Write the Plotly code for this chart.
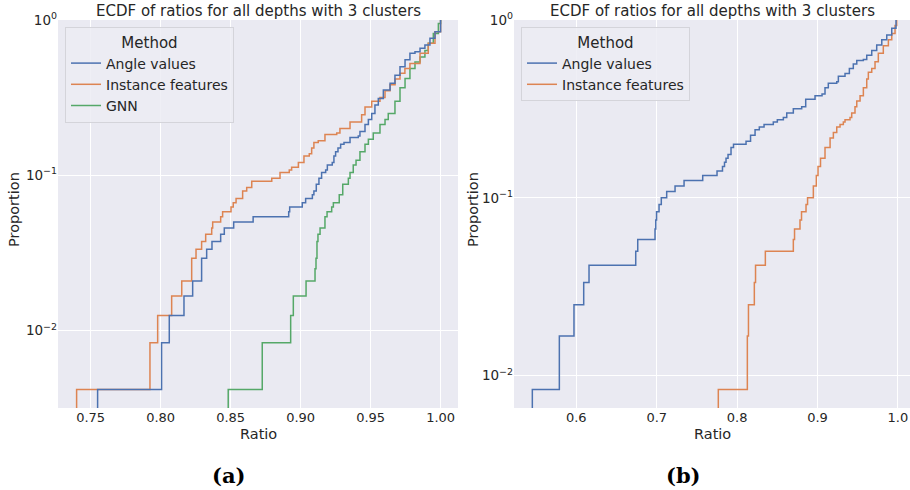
import plotly.graph_objects as go

# ---------------- data ----------------
# Panel (a): ECDF step positions (ratio) and cumulative counts, N = 240 per method
N_A = 240
a_angle_x = [0.7550, 0.8007, 0.8062, 0.8167, 0.8229, 0.8293, 0.8329, 0.8367, 0.8429, 0.8455,
             0.8522, 0.8661, 0.8915, 0.8922, 0.9012, 0.9036, 0.9084, 0.9095, 0.9112, 0.9131,
             0.9150, 0.9179, 0.9191, 0.9226, 0.9238, 0.9250, 0.9267, 0.9286, 0.9310, 0.9353,
             0.9412, 0.9424, 0.9460, 0.9484, 0.9508, 0.9531, 0.9555, 0.9591, 0.9639, 0.9674,
             0.9710, 0.9746, 0.9781, 0.9817, 0.9853, 0.9888, 0.9924, 0.9960, 1.0000]
a_angle_k = [1, 2, 3, 4, 5, 7, 8, 9, 10, 11,
             12, 13, 14, 15, 16, 17, 18, 19, 21, 23,
             25, 26, 28, 29, 32, 34, 36, 38, 39, 42,
             43, 46, 51, 55, 60, 68, 75, 85, 94, 106,
             120, 133, 147, 150, 158, 166, 183, 202, 240]

a_inst_x = [0.7400, 0.7924, 0.7979, 0.8079, 0.8151, 0.8222, 0.8253, 0.8293, 0.8322, 0.8365,
            0.8372, 0.8429, 0.8443, 0.8503, 0.8519, 0.8539, 0.8586, 0.8615, 0.8651, 0.8794,
            0.8853, 0.8919, 0.8936, 0.8984, 0.9024, 0.9062, 0.9079, 0.9095, 0.9126, 0.9174,
            0.9258, 0.9281, 0.9353, 0.9436, 0.9460, 0.9508, 0.9567, 0.9603, 0.9639, 0.9675,
            0.9710, 0.9745, 0.9781, 0.9853, 0.9912, 0.9960, 1.0000]
a_inst_k = [1, 2, 3, 4, 5, 7, 8, 9, 10, 11,
            12, 13, 14, 15, 16, 17, 19, 20, 22, 23,
            25, 26, 27, 29, 32, 33, 36, 39, 40, 44,
            45, 48, 53, 59, 66, 72, 76, 84, 92, 100,
            109, 117, 126, 147, 170, 202, 240]

a_gnn_x = [0.8483, 0.8726, 0.8929, 0.8948, 0.9039, 0.9103, 0.9110, 0.9117, 0.9124, 0.9139,
           0.9174, 0.9189, 0.9222, 0.9234, 0.9276, 0.9301, 0.9341, 0.9353, 0.9376, 0.9396,
           0.9424, 0.9460, 0.9484, 0.9519, 0.9567, 0.9603, 0.9626, 0.9674, 0.9710, 0.9746,
           0.9781, 0.9817, 0.9853, 0.9888, 0.9912, 0.9948, 0.9984, 1.0000]
a_gnn_k = [1, 2, 3, 4, 5, 6, 7, 9, 10, 11,
           13, 14, 15, 16, 18, 21, 23, 25, 28, 30,
           34, 38, 41, 45, 51, 55, 60, 72, 88, 101,
           117, 129, 139, 153, 170, 197, 228, 240]

# Panel (b): N = 120 per method
N_B = 120
b_angle_x = [0.5453, 0.5789, 0.5971, 0.6092, 0.6158, 0.6739, 0.6764, 0.6979, 0.6988, 0.6998,
             0.7029, 0.7057, 0.7124, 0.7228, 0.7340, 0.7572, 0.7750, 0.7818, 0.7843, 0.7862,
             0.7887, 0.7924, 0.7955, 0.8111, 0.8167, 0.8223, 0.8276, 0.8335, 0.8450, 0.8500,
             0.8575, 0.8617, 0.8699, 0.8803, 0.8853, 0.8969, 0.9056, 0.9093, 0.9134, 0.9239,
             0.9259, 0.9342, 0.9396, 0.9445, 0.9488, 0.9570, 0.9612, 0.9674, 0.9736, 0.9799,
             0.9861, 0.9923, 0.9976]
b_angle_k = [1, 2, 3, 4, 5, 6, 7, 8, 9, 10,
             11, 12, 13, 14, 15, 16, 17, 18, 19, 20,
             21, 23, 24, 25, 27, 29, 30, 31, 32, 33,
             34, 36, 38, 39, 43, 45, 46, 50, 53, 54,
             58, 60, 64, 68, 71, 72, 76, 81, 87, 93,
             99, 108, 120]

b_inst_x = [0.7766, 0.8127, 0.8141, 0.8214, 0.8229, 0.8351, 0.8699, 0.8714, 0.8782, 0.8801,
            0.8857, 0.8876, 0.8948, 0.8985, 0.9006, 0.9037, 0.9093, 0.9156, 0.9197, 0.9239,
            0.9280, 0.9321, 0.9342, 0.9404, 0.9425, 0.9466, 0.9488, 0.9529, 0.9570, 0.9612,
            0.9632, 0.9674, 0.9715, 0.9756, 0.9818, 0.9881, 0.9923, 0.9964, 0.9985]
b_inst_k = [1, 2, 3, 4, 5, 6, 7, 8, 9, 10,
            11, 12, 14, 16, 18, 20, 23, 26, 28, 30,
            31, 32, 33, 34, 36, 39, 42, 45, 50, 56,
            61, 64, 70, 78, 86, 93, 101, 112, 120]

METHODS = ["Angle values", "Instance features", "GNN"]
TITLE = "ECDF of ratios for all depths with 3 clusters"
A_XTICKS = [0.75, 0.80, 0.85, 0.90, 0.95, 1.00]
B_XTICKS = [0.6, 0.7, 0.8, 0.9, 1.0]
Y_TICKS = [0.01, 0.1, 1]
Y_TICKTEXT = ["10<sup>\u22122</sup>", "10<sup>\u22121</sup>", "10<sup>0</sup>"]

# ---------------- styling ----------------
COLORS = {"Angle values": "#4C72B0", "Instance features": "#DD8452", "GNN": "#55A868"}
TXT = "#262626"
BG = "#EAEAF2"
W, H = 910, 490


def ecdf_xy(xs, ks, n):
    # start the first vertical segment below the visible range (ECDF begins at 0)
    return [xs[0]] + list(xs), [1e-5] + [k / n for k in ks]


fig = go.Figure()

panel_a = {"Angle values": (a_angle_x, a_angle_k), "Instance features": (a_inst_x, a_inst_k),
           "GNN": (a_gnn_x, a_gnn_k)}
panel_b = {"Angle values": (b_angle_x, b_angle_k), "Instance features": (b_inst_x, b_inst_k)}

# draw in reverse hue order (seaborn layering: first method on top)
for name in reversed(METHODS):
    xs, ks = panel_a[name]
    x, y = ecdf_xy(xs, ks, N_A)
    fig.add_trace(go.Scatter(x=x, y=y, mode="lines", line=dict(color=COLORS[name], width=1.5, shape="hv"),
                             name=name, xaxis="x", yaxis="y", legend="legend", hoverinfo="skip"))
for name in reversed(METHODS[:2]):
    xs, ks = panel_b[name]
    x, y = ecdf_xy(xs, ks, N_B)
    fig.add_trace(go.Scatter(x=x, y=y, mode="lines", line=dict(color=COLORS[name], width=1.5, shape="hv"),
                             name=name, xaxis="x2", yaxis="y2", legend="legend2", hoverinfo="skip"))

common_x = dict(showgrid=True, gridcolor="white", gridwidth=1, zeroline=False, showline=False,
                ticks="", tickfont=dict(family="DejaVu Sans", size=13, color=TXT), automargin=False)
common_y = dict(type="log", showgrid=True, gridcolor="white", gridwidth=1, zeroline=False, showline=False,
                ticks="", tickvals=Y_TICKS, ticktext=Y_TICKTEXT,
                tickfont=dict(family="DejaVu Sans", size=13.5, color=TXT), automargin=False,
                minor=dict(showgrid=False))

legend_common = dict(y=1 - 27 / H, xanchor="left", yanchor="top",
                     bgcolor="rgba(236,236,243,0.85)", bordercolor="#D4D4DA", borderwidth=1,
                     title=dict(text="Method", side="top center", font=dict(size=15, color=TXT)),
                     font=dict(size=14, color=TXT), traceorder="reversed", tracegroupgap=0, itemwidth=30)

ydom = [1 - 408 / H, 1 - 20 / H]
fig.update_layout(
    width=W, height=H,
    margin=dict(l=0, r=0, t=0, b=0),
    paper_bgcolor="white", plot_bgcolor=BG,
    font=dict(family="DejaVu Sans", color=TXT),
    xaxis=dict(domain=[58 / W, 458 / W], anchor="y", range=[0.72671, 1.01243],
               tickvals=A_XTICKS, ticktext=[f"{v:.2f}" for v in A_XTICKS], **common_x),
    yaxis=dict(domain=ydom, anchor="x", range=[-2.499, 0.0005], **common_y),
    xaxis2=dict(domain=[514 / W, 1.0], anchor="y2", range=[0.5225, 1.0150],
                tickvals=B_XTICKS, ticktext=[f"{v:.1f}" for v in B_XTICKS], **common_x),
    yaxis2=dict(domain=ydom, anchor="x2", range=[-2.183, 0.0005], **common_y),
    legend=dict(x=65 / W, **legend_common),
    legend2=dict(x=521 / W, **legend_common),
    showlegend=True,
)

ann = []
for cx in (258, 712):
    ann.append(dict(text=TITLE, x=cx / W, y=1 - 11 / H, xref="paper", yref="paper",
                    showarrow=False, font=dict(size=15, color=TXT), xanchor="center", yanchor="middle"))
    ann.append(dict(text="Ratio", x=cx / W, y=1 - 434 / H, xref="paper", yref="paper",
                    showarrow=False, font=dict(size=14.5, color=TXT), xanchor="center", yanchor="middle"))
for lx in (14, 473):
    ann.append(dict(text="Proportion", x=lx / W, y=1 - 210 / H, xref="paper", yref="paper", textangle=-90,
                    showarrow=False, font=dict(size=14.5, color=TXT), xanchor="center", yanchor="middle"))
for cx, lab in ((228, "(a)"), (683, "(b)")):
    ann.append(dict(text=f"<b>{lab}</b>", x=cx / W, y=1 - 475 / H, xref="paper", yref="paper",
                    showarrow=False, font=dict(family="DejaVu Serif", size=21, color="black"),
                    xanchor="center", yanchor="middle"))
fig.update_layout(annotations=ann)

fig.write_html("out.html")
